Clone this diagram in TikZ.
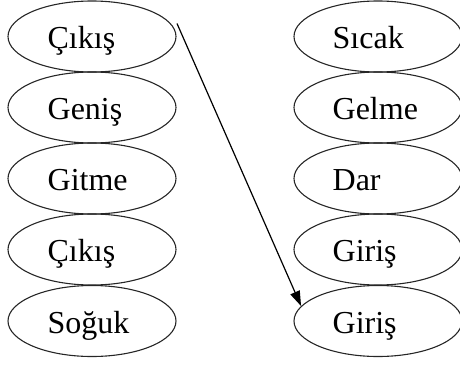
\documentclass[tikz,border=0pt]{standalone}
\usepackage{fontspec}
\setmainfont{Liberation Serif}
\usetikzlibrary{shapes.geometric,calc,arrows.meta}
\begin{document}
\begin{tikzpicture}[x=1pt,y=-1pt,
  oval/.style={draw, ellipse, line width=1.1pt, draw=black!85, minimum width=168pt, minimum height=71pt, inner sep=0pt},
  word/.style={anchor=base west, inner sep=0pt, font=\fontsize{32}{38}\selectfont},
  arr/.style={-{Triangle[length=15pt,width=10pt]}, line width=1.2pt}]
\useasboundingbox (0,0) rectangle (460,367);
\foreach \n/\y/\t in {1/36.5/Çıkış,2/107.5/Geniş,3/178.5/Gitme,4/249.5/Çıkış,5/321/Soğuk}{
  \node[oval] (L\n) at (92,\y) {};
  \node[word] (LT\n) at ($(L\n.west)+(40,12)$) {\t};
}
\foreach \n/\y/\t in {1/36.5/Sıcak,2/107.5/Gelme,3/178.5/Dar,4/249.5/Giriş,5/321/Giriş}{
  \node[oval] (R\n) at (378,\y) {};
  \node[word] (RT\n) at ($(R\n.west)+(39,12)$) {\t};
}
\coordinate (start) at ($(L1.center)+(85,-13)$);
\draw[arr] (start) -- (R5.169);
\end{tikzpicture}
\end{document}
